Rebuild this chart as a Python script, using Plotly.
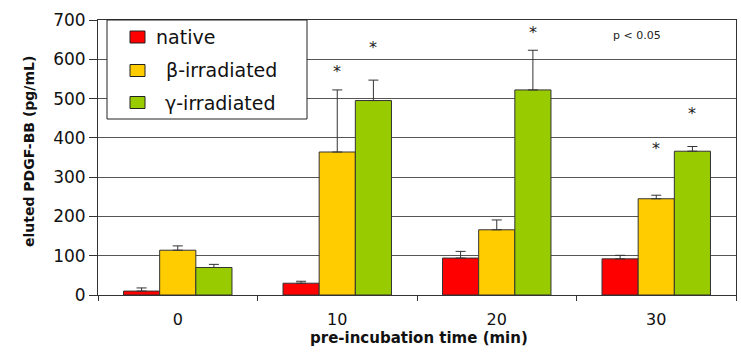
import plotly.graph_objects as go

categories = ["0", "10", "20", "30"]
series_names = ["native", "β-irradiated", "γ-irradiated"]
native = [10, 30, 94, 92]
native_err = [8, 5, 17, 9]
beta = [114, 364, 166, 245]
beta_err = [11, 158, 25, 9]
gamma = [70, 495, 522, 366]
gamma_err = [8, 52, 101, 12]
colors = ["#FF0000", "#FFCC00", "#99CC00"]

# significance markers: (category, series index, y position)
star_cat = ["10", "10", "20", "30", "30"]
star_series = [1, 2, 2, 1, 2]
star_y = [570, 631, 669, 374, 463]

FONT = "DejaVu Sans"
W, H = 741, 352
L, R, T, B = 98, 5, 20, 57
pw, ph = W - L - R, H - T - B


def px(x):
    return (x - L) / pw


def py(y):
    return (H - B - y) / ph


fig = go.Figure()
for name, vals, errs, col in zip(series_names, [native, beta, gamma],
                                 [native_err, beta_err, gamma_err], colors):
    fig.add_trace(go.Bar(
        x=categories, y=vals, name=name,
        marker=dict(color=col, line=dict(color="#333333", width=1)),
        error_y=dict(type="data", symmetric=False, array=errs,
                     arrayminus=[0] * len(errs), color="#333333",
                     thickness=1, width=5),
        showlegend=False,
    ))

bar_offsets = [-0.225, 0, 0.225]
for c, s, yv in zip(star_cat, star_series, star_y):
    fig.add_annotation(x=categories.index(c) + bar_offsets[s], y=yv, text="*",
                       showarrow=False, xref="x", yref="y",
                       xanchor="center", yanchor="middle",
                       font=dict(size=16, color="#222222", family=FONT))

fig.add_annotation(x=px(637), y=py(35), xref="paper", yref="paper", text="p < 0.05",
                   showarrow=False, xanchor="center", yanchor="middle",
                   font=dict(size=11, color="#222222", family=FONT))

# custom legend box
fig.add_shape(type="rect", xref="paper", yref="paper", x0=px(107), x1=px(307),
              y0=py(119), y1=py(20), line=dict(color="#222222", width=1),
              fillcolor="white", layer="above")
leg_y = [37, 70.5, 102.5]
leg_tx = [154, 164, 163]
for name, col, yy, tx in zip(series_names, colors, leg_y, leg_tx):
    fig.add_shape(type="rect", xref="paper", yref="paper",
                  x0=px(130), x1=px(145), y0=py(yy + 6), y1=py(yy - 6),
                  line=dict(color="#222222", width=1), fillcolor=col, layer="above")
    fig.add_annotation(x=px(tx), y=py(yy), xref="paper", yref="paper",
                       text=name, showarrow=False, xanchor="left", yanchor="middle",
                       font=dict(size=19, color="#111111", family=FONT))

# axis titles
fig.add_annotation(x=px(29), y=py(152), xref="paper", yref="paper",
                   text="<b>eluted PDGF-BB (pg/mL)</b>", textangle=-90, showarrow=False,
                   xanchor="center", yanchor="middle",
                   font=dict(size=14, color="#111111", family=FONT))
fig.add_annotation(x=px(419), y=py(338), xref="paper", yref="paper",
                   text="<b>pre-incubation time (min)</b>", showarrow=False,
                   xanchor="center", yanchor="middle",
                   font=dict(size=15, color="#111111", family=FONT))

fig.update_layout(
    width=W, height=H,
    margin=dict(l=L, r=R, t=T, b=B, autoexpand=False),
    barmode="group", bargap=0.32, bargroupgap=0,
    plot_bgcolor="white", paper_bgcolor="white",
    font=dict(family=FONT, color="#111111"),
    xaxis=dict(
        type="category", showline=True, linecolor="#333333", linewidth=1,
        mirror=True, ticks="outside", tickson="boundaries", ticklen=5,
        tickcolor="#333333", tickfont=dict(size=16), ticklabelstandoff=10,
        automargin=False,
    ),
    yaxis=dict(
        range=[0, 700], dtick=100, showline=True, linecolor="#333333",
        linewidth=1, mirror=True, ticks="outside", ticklen=8,
        tickcolor="#333333", showgrid=True, gridcolor="#555555", gridwidth=1,
        tickfont=dict(size=17), zeroline=False, automargin=False,
    ),
)

fig.write_html("out.html", config={"displayModeBar": False},
               post_script="document.body.style.margin='0';document.body.style.overflow='hidden';")
